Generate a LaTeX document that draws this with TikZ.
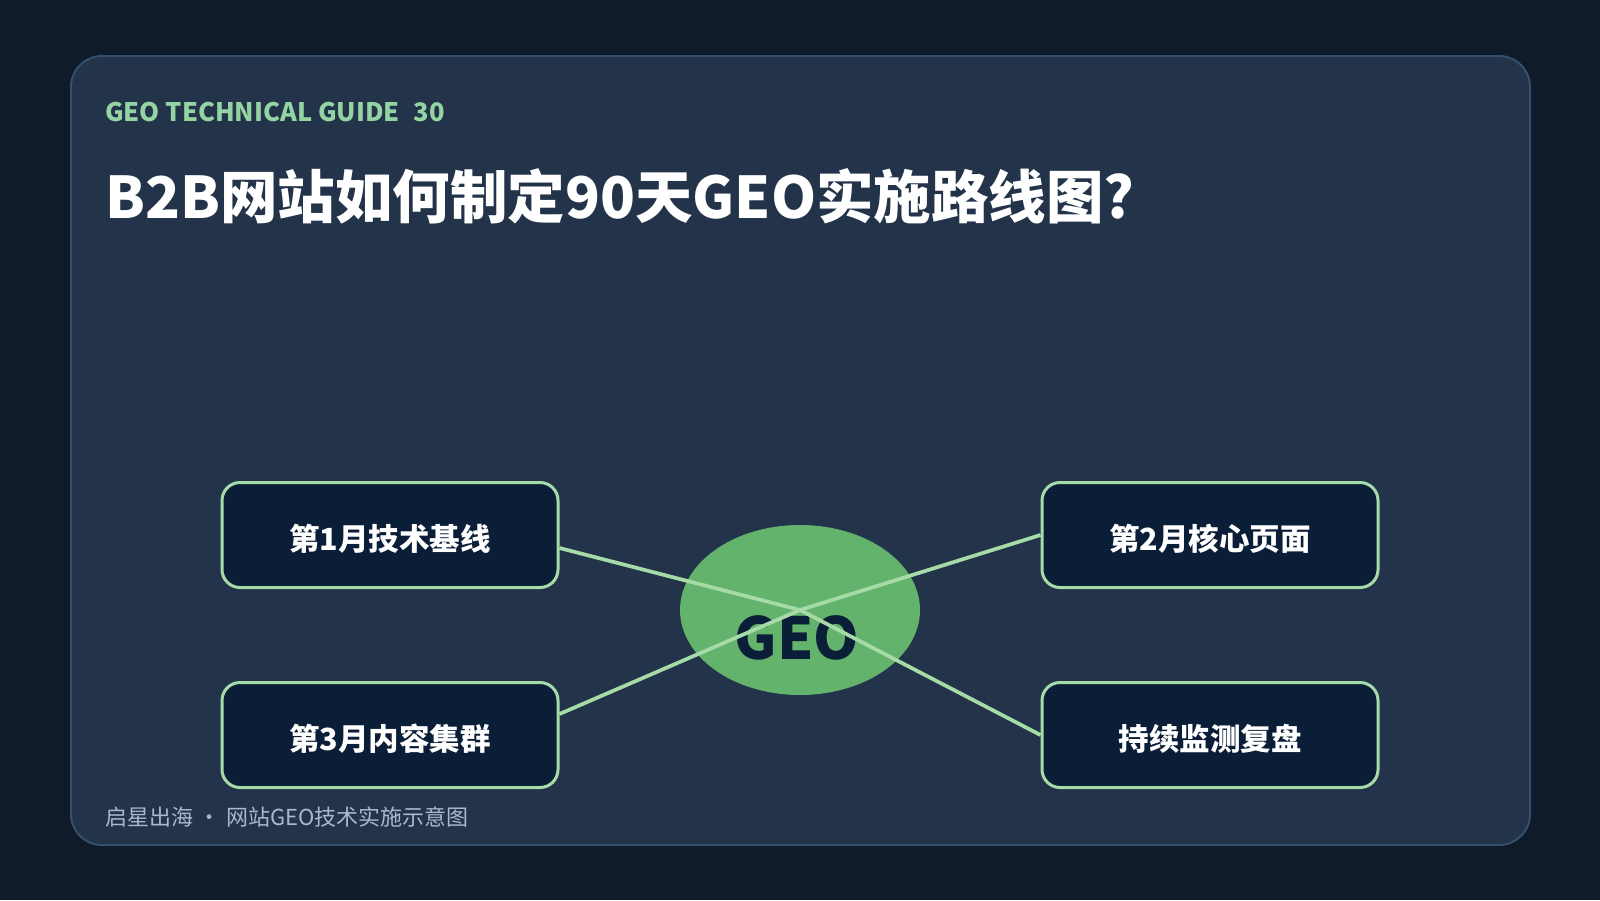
\documentclass[tikz,border=0pt]{standalone}
\usepackage{fontspec}
\setmainfont{Noto Sans CJK SC}
\usetikzlibrary{shapes.geometric}
\definecolor{bgc}{HTML}{0F1A2A}
\definecolor{cardfill}{HTML}{22334A}
\definecolor{cardline}{HTML}{36506B}
\definecolor{headgreen}{HTML}{94D3A2}
\definecolor{boxfill}{HTML}{0B1E37}
\definecolor{boxline}{HTML}{A6DBA8}
\definecolor{geofill}{HTML}{63B36C}
\definecolor{foottext}{HTML}{A9B8CB}
\tikzset{
  stepbox/.style={draw=boxline, fill=boxfill, line width=3pt, rounded corners=18pt,
    minimum width=336pt, minimum height=105pt, inner sep=0pt,
    text height=31pt, text depth=0pt,
    text=white, font=\fontsize{30.5}{33}\selectfont\bfseries},
  conn/.style={draw=boxline, line width=3.7pt},
  txt/.style={inner sep=0pt, anchor=base west}
}
\begin{document}
\begin{tikzpicture}[x=1pt,y=-1pt]
\useasboundingbox (0,0) rectangle (1600,900);
\fill[bgc] (0,0) rectangle (1600,900);
\draw[fill=cardfill, draw=cardline, line width=2pt, rounded corners=31pt] (71,56) rectangle (1530,845);
\node[txt, text=headgreen, font=\fontsize{25.5}{28}\selectfont\bfseries] (head) at (105,121) {GEO TECHNICAL GUIDE\hspace{0.3em} 30};
\node[txt, text=white, font=\fontsize{57.5}{62}\selectfont\bfseries] (title) at (105,218) {B2B网站如何制定90天GEO实施路线图?};
\node[ellipse, fill=geofill, minimum width=240pt, minimum height=170pt, inner sep=0pt] (geo) at (800,610) {};
\node[inner sep=0pt, anchor=base, text=boxfill, font=\fontsize{58}{62}\selectfont\bfseries] (geot) at (797,659) {GEO};
\node[stepbox] (b1) at (390,535) {第1月技术基线};
\node[stepbox] (b2) at (1210,535) {第2月核心页面};
\node[stepbox] (b3) at (390,735) {第3月内容集群};
\node[stepbox] (b4) at (1210,735) {持续监测复盘};
\draw[conn] (geo.center) -- ([yshift=-13pt]b1.east);
\draw[conn] (geo.center) -- (b2.west);
\draw[conn] (geo.center) -- ([yshift=21pt]b3.east);
\draw[conn] (geo.center) -- (b4.west);
\node[txt, text=foottext, font=\fontsize{22}{24}\selectfont] (foot) at (105,825) {启星出海\hspace{5.5pt}·\hspace{5.5pt}网站GEO技术实施示意图};
\end{tikzpicture}
\end{document}
